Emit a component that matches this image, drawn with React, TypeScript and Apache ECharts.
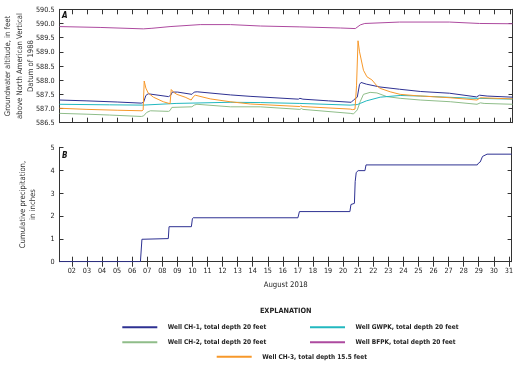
import React, { useEffect, useRef } from "react";
import * as echarts from "echarts";

// x values are days of August 2018 (fractional)
const dayTicks = [2, 3, 4, 5, 6, 7, 8, 9, 10, 11, 12, 13, 14, 15, 16, 17, 18, 19, 20, 21, 22, 23, 24, 25, 26, 27, 28, 29, 30, 31];
const altitudeTicks = [586.5, 587.0, 587.5, 588.0, 588.5, 589.0, 589.5, 590.0, 590.5];
const precipTicks = [0, 1, 2, 3, 4, 5];

const wellCH1: [number, number][] = [
  [1.18, 587.30], [3.0, 587.27], [5.0, 587.23], [6.6, 587.19], [6.75, 587.22], [6.9, 587.46], [7.05, 587.52],
  [8.4, 587.42], [8.55, 587.47], [8.65, 587.58], [9.0, 587.58], [9.95, 587.50], [10.1, 587.58], [10.3, 587.59],
  [12.5, 587.48], [13.8, 587.43], [17.0, 587.33], [17.1, 587.36], [17.3, 587.33], [19.0, 587.27], [20.5, 587.22],
  [20.65, 587.30], [20.75, 587.34], [20.9, 587.40], [21.05, 587.85], [21.15, 587.92], [21.5, 587.86], [22.4, 587.76],
  [23.7, 587.68], [25.1, 587.60], [27.0, 587.54], [28.8, 587.41], [29.0, 587.47], [29.5, 587.44], [31.18, 587.40],
];
const wellCH2: [number, number][] = [
  [1.18, 586.83], [3.0, 586.80], [4.5, 586.77], [6.6, 586.72], [6.75, 586.74], [6.95, 586.86], [7.2, 586.92],
  [8.4, 586.90], [8.5, 586.93], [8.62, 587.04], [9.95, 587.06], [10.1, 587.12], [10.28, 587.15], [12.5, 587.06],
  [14.47, 587.06], [17.1, 586.97], [17.2, 587.0], [17.3, 586.97], [20.43, 586.83], [20.65, 586.81], [20.9, 586.95],
  [21.1, 587.25], [21.31, 587.50], [21.75, 587.57], [22.2, 587.55], [22.86, 587.42], [23.74, 587.36], [25.07, 587.30],
  [27.06, 587.24], [28.83, 587.15], [29.05, 587.20], [29.3, 587.18], [31.18, 587.15],
];
const wellCH3: [number, number][] = [
  [1.18, 587.01], [3.0, 586.97], [5.0, 586.94], [6.65, 586.92], [6.72, 586.95], [6.79, 587.97], [6.9, 587.72],
  [7.05, 587.55], [7.4, 587.40], [8.05, 587.24], [8.5, 587.17], [8.58, 587.67], [8.75, 587.57], [8.95, 587.50],
  [9.5, 587.40], [9.9, 587.30], [10.05, 587.42], [10.17, 587.47], [11.16, 587.34], [12.48, 587.24], [13.81, 587.16],
  [17.1, 587.07], [17.15, 587.10], [17.25, 587.07], [20.43, 586.98], [20.6, 586.96], [20.75, 586.98], [20.85, 587.8],
  [20.95, 589.39], [21.05, 589.0], [21.31, 588.35], [21.54, 588.12], [21.87, 588.01], [22.2, 587.80], [22.42, 587.71],
  [23.08, 587.59], [23.74, 587.50], [24.85, 587.45], [27.06, 587.38], [28.83, 587.30], [29.05, 587.38], [31.18, 587.34],
];
const wellGWPK: [number, number][] = [
  [1.18, 587.15], [4.5, 587.13], [6.7, 587.12], [8.9, 587.18], [12.48, 587.22], [14.47, 587.21], [17.1, 587.18],
  [20.43, 587.12], [20.9, 587.14], [21.09, 587.18], [21.5, 587.27], [22.42, 587.40], [23.74, 587.46], [25.07, 587.44],
  [28.16, 587.37], [31.18, 587.33],
];
const wellBFPK: [number, number][] = [
  [1.18, 589.89], [3.87, 589.86], [6.73, 589.81], [7.3, 589.83], [8.5, 589.89], [10.5, 589.96], [12.5, 589.96],
  [14.5, 589.91], [17.1, 589.88], [19.8, 589.84], [20.77, 589.82], [21.1, 589.95], [21.4, 590.0], [23.7, 590.05],
  [27.0, 590.05], [29.0, 590.0], [31.18, 589.99],
];
const precipitation: [number, number][] = [
  [1.18, 0], [6.55, 0], [6.65, 0.98], [8.4, 1.01], [8.45, 1.53], [9.93, 1.53], [10.0, 1.88], [10.05, 1.92],
  [17.0, 1.92], [17.1, 2.19], [20.45, 2.19], [20.52, 2.5], [20.75, 2.55], [20.8, 3.5], [20.87, 3.9], [21.0, 3.98],
  [21.45, 3.98], [21.52, 4.23], [28.9, 4.23], [29.0, 4.32], [29.1, 4.36], [29.25, 4.6], [29.55, 4.7], [31.18, 4.7],
];

const seriesNames = [
  "Well CH-1, total depth 20 feet",
  "Well CH-2, total depth 20 feet",
  "Well CH-3, total depth 15.5 feet",
  "Well GWPK, total depth 20 feet",
  "Well BFPK, total depth 20 feet",
];

const C_CH1 = "#2e3192";
const C_CH2 = "#8fbd89";
const C_CH3 = "#f7982a";
const C_GWPK = "#22b8bf";
const C_BFPK = "#ad4a9f";

const FONT = '"Liberation Sans Narrow", "DejaVu Sans Condensed", "Liberation Sans", sans-serif';
const AX = "#333";
const X_MIN = 1.18;
const X_MAX = 31.18;

export default function App() {
  const ref = useRef<HTMLDivElement>(null);
  useEffect(() => {
    if (!ref.current) return;
    const chart = echarts.init(ref.current, undefined, { renderer: "svg" });
    const grids = [
      { left: 59.5, top: 9.3, width: 453, height: 113.4 },
      { left: 59.5, top: 147.3, width: 453, height: 114.4 },
    ];
    const xBase = (gridIndex: number, position: "top" | "bottom", labels: boolean) => ({
      type: "value",
      gridIndex,
      position,
      min: X_MIN,
      max: X_MAX,
      axisLine: { show: true, lineStyle: { color: AX, width: 1 } },
      axisTick: { show: true, inside: true, length: 5, customValues: dayTicks, lineStyle: { color: AX } },
      axisLabel: {
        show: labels,
        customValues: dayTicks,
        formatter: (v: number) => String(Math.round(v)).padStart(2, "0"),
        fontFamily: FONT,
        fontSize: 7.2,
        color: "#222",
        margin: 5,
      },
      splitLine: { show: false },
      z: 1,
    });
    const yBase = (gridIndex: number, position: "left" | "right", labels: boolean, min: number, max: number, interval: number, dec: number) => ({
      type: "value",
      gridIndex,
      position,
      min,
      max,
      interval,
      axisLine: { show: true, lineStyle: { color: AX, width: 1 } },
      axisTick: { show: true, inside: true, length: 4, lineStyle: { color: AX } },
      axisLabel: {
        show: labels,
        formatter: (v: number) => v.toFixed(dec),
        fontFamily: FONT,
        fontSize: 7.2,
        color: "#222",
        margin: 5,
      },
      splitLine: { show: false },
      z: 1,
    });
    const line = (name: string, data: [number, number][], color: string, xi: number, yi: number, width = 1) => ({
      type: "line",
      name,
      data,
      xAxisIndex: xi,
      yAxisIndex: yi,
      showSymbol: false,
      symbol: "none",
      lineStyle: { color, width },
      itemStyle: { color },
      z: 5,
    });
    const legendItem = (lx: number, ly: number, color: string, text: string) => [
      { type: "line", shape: { x1: lx, y1: ly, x2: lx + 35, y2: ly }, style: { stroke: color, lineWidth: 2 } },
      {
        type: "text",
        x: lx + 45.5,
        y: ly,
        style: { text, font: `bold 6.5px ${FONT}`, fill: "#222", textAlign: "left", textVerticalAlign: "middle" },
      },
    ];
    chart.setOption({
      animation: false,
      grid: grids,
      xAxis: [xBase(0, "bottom", false), xBase(0, "top", false), xBase(1, "bottom", true), xBase(1, "top", false)],
      yAxis: [
        yBase(0, "left", true, 586.5, 590.5, 0.5, 1),
        yBase(0, "right", false, 586.5, 590.5, 0.5, 1),
        yBase(1, "left", true, 0, 5, 1, 0),
        yBase(1, "right", false, 0, 5, 1, 0),
      ],
      series: [
        line(seriesNames[4], wellBFPK, C_BFPK, 0, 0),
        line(seriesNames[1], wellCH2, C_CH2, 0, 0),
        line(seriesNames[3], wellGWPK, C_GWPK, 0, 0),
        line(seriesNames[0], wellCH1, C_CH1, 0, 0),
        line(seriesNames[2], wellCH3, C_CH3, 0, 0),
        line("Cumulative precipitation", precipitation, C_CH1, 2, 2),
      ],
      graphic: [
        {
          type: "text",
          x: 19,
          y: 66,
          rotation: Math.PI / 2,
          style: {
            text: "Groundwater altitude, in feet\nabove North American Vertical\nDatum of 1988",
            font: `7.7px ${FONT}`,
            fill: "#333",
            textAlign: "center",
            textVerticalAlign: "middle",
            lineHeight: 11.5,
          },
        },
        {
          type: "text",
          x: 27.3,
          y: 204.5,
          rotation: Math.PI / 2,
          style: {
            text: "Cumulative precipitation,\nin inches",
            font: `7.7px ${FONT}`,
            fill: "#333",
            textAlign: "center",
            textVerticalAlign: "middle",
            lineHeight: 10,
          },
        },
        { type: "text", x: 62, y: 15.5, style: { text: "A", font: `italic bold 8px ${FONT}`, fill: "#111", textVerticalAlign: "middle" } },
        { type: "text", x: 62, y: 155, style: { text: "B", font: `italic bold 8px ${FONT}`, fill: "#111", textVerticalAlign: "middle" } },
        {
          type: "text",
          x: 285.7,
          y: 284.3,
          style: { text: "August 2018", font: `7.7px ${FONT}`, fill: "#222", textAlign: "center", textVerticalAlign: "middle" },
        },
        {
          type: "text",
          x: 285.7,
          y: 310.7,
          style: { text: "EXPLANATION", font: `bold 7.3px ${FONT}`, fill: "#222", textAlign: "center", textVerticalAlign: "middle" },
        },
        ...legendItem(122.3, 327.3, C_CH1, seriesNames[0]),
        ...legendItem(310, 327.3, C_GWPK, seriesNames[3]),
        ...legendItem(122.3, 342.3, C_CH2, seriesNames[1]),
        ...legendItem(310, 342.3, C_BFPK, seriesNames[4]),
        ...legendItem(216.7, 356.7, C_CH3, seriesNames[2]),
      ],
    });
    return () => chart.dispose();
  }, []);
  return <div ref={ref} style={{ position: "fixed", left: 0, top: 0, width: 516, height: 365 }} />;
}
